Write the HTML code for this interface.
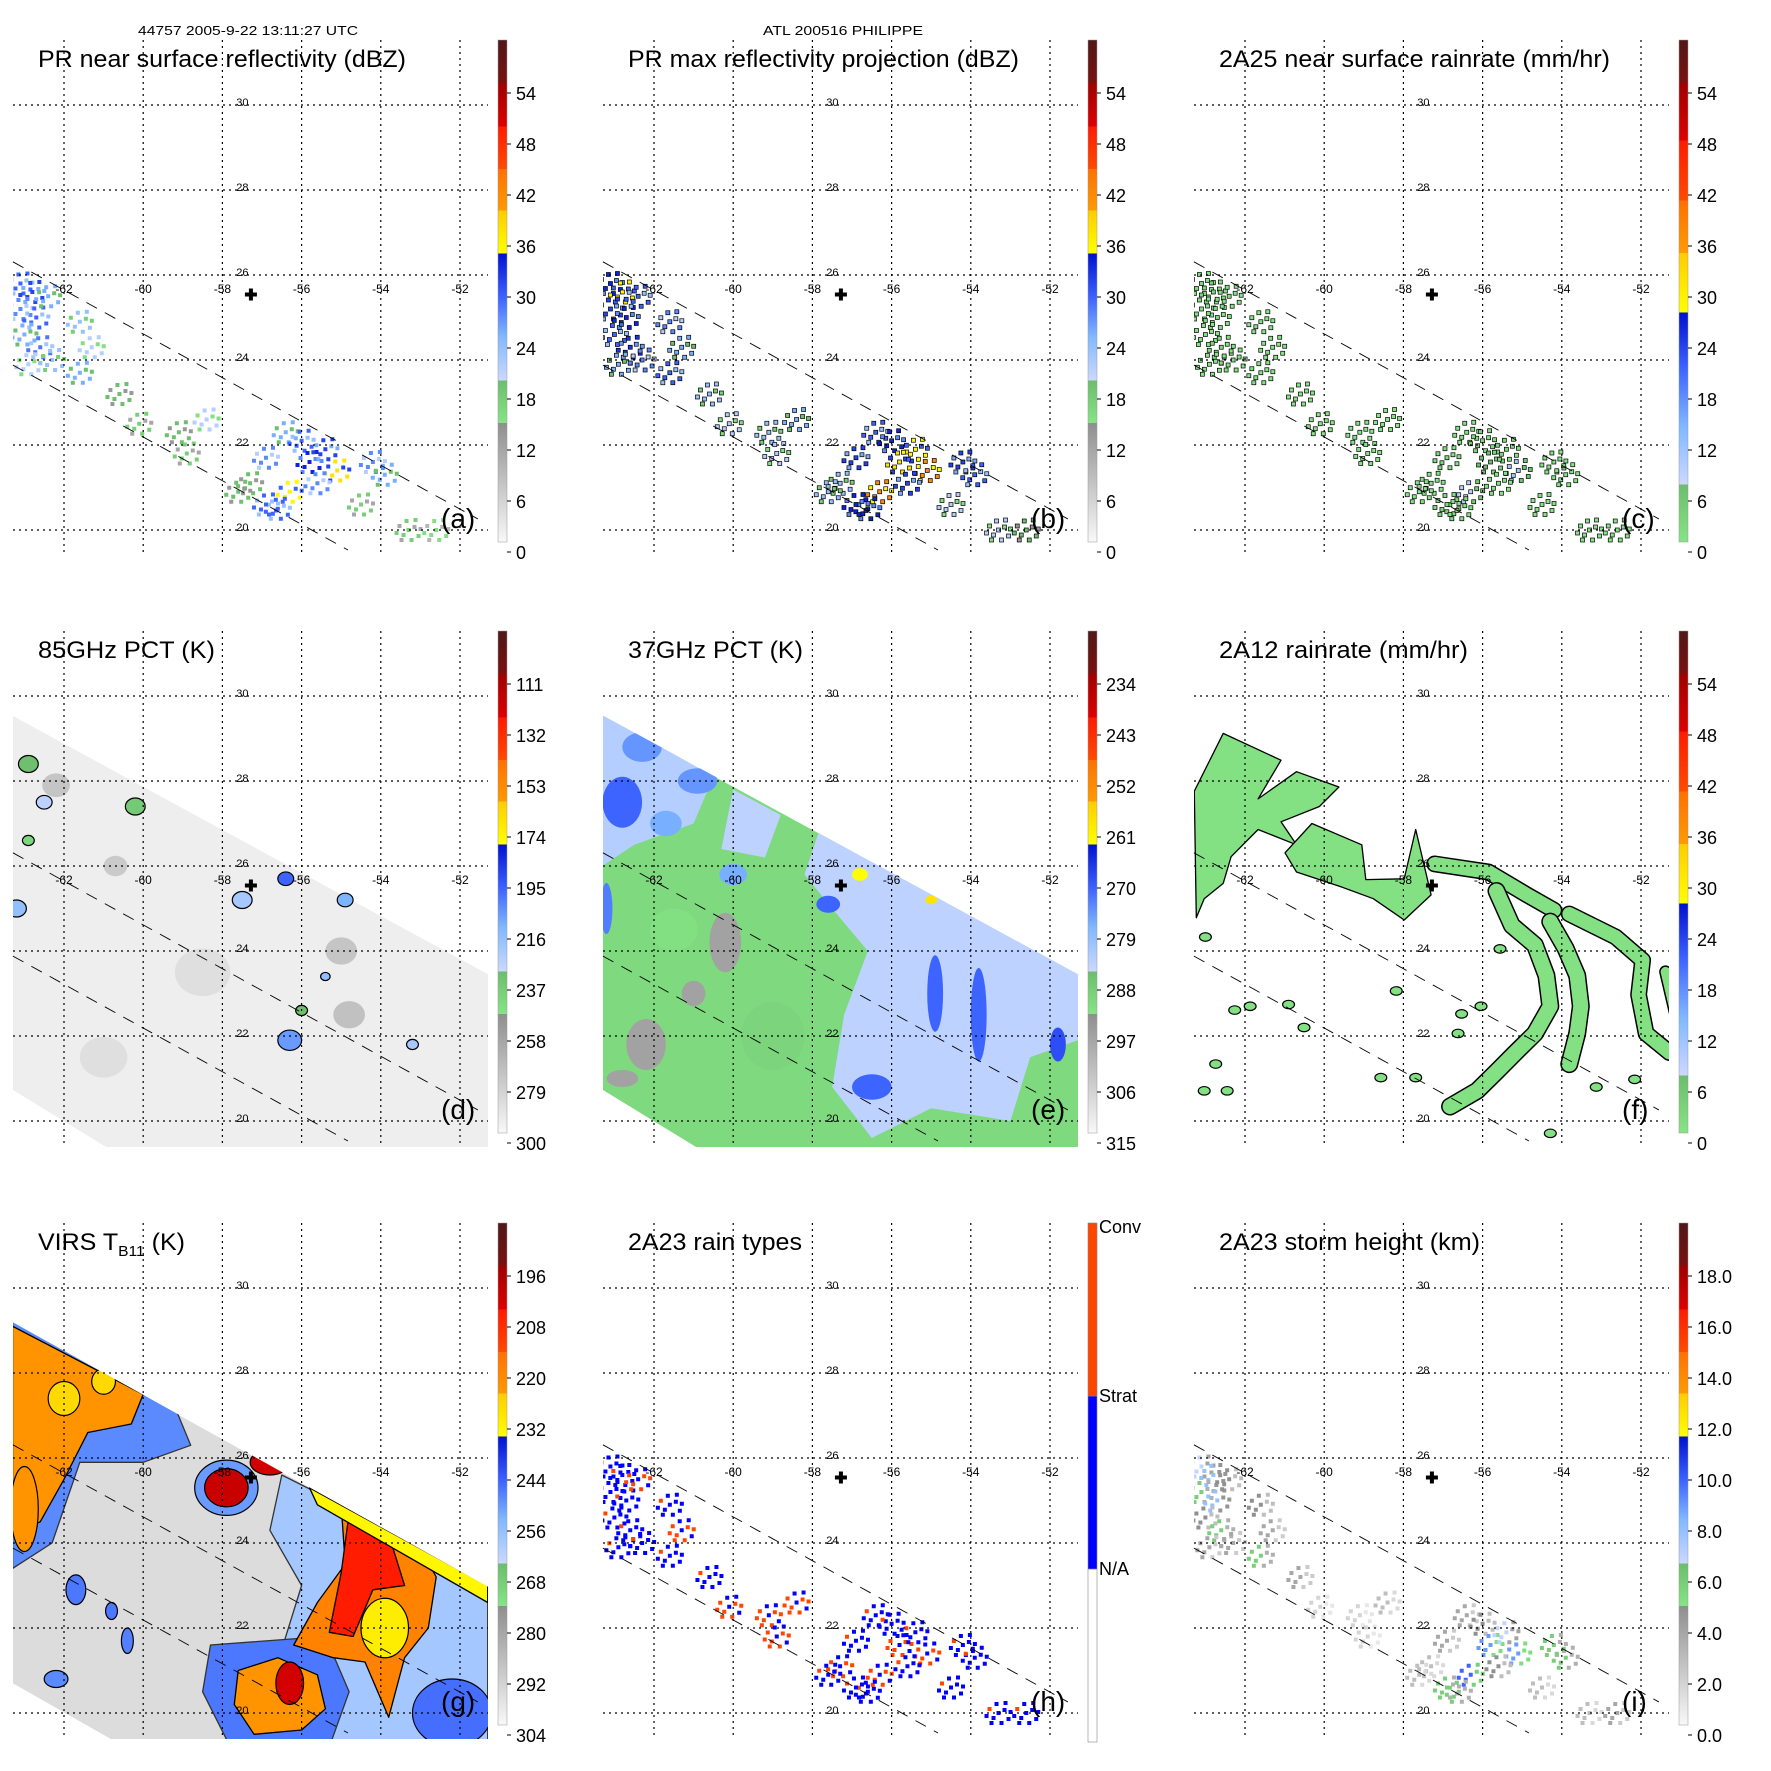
<!DOCTYPE html>
<html><head><meta charset="utf-8"><title>TRMM PHILIPPE 2005-9-22</title>
<style>html,body{margin:0;padding:0;background:#fff}svg{display:block;font-family:"Liberation Sans",Arial,sans-serif}</style>
</head><body>
<svg id="fig" width="1771" height="1771" viewBox="0 0 1771 1771" xmlns="http://www.w3.org/2000/svg">
<defs id="defs"></defs>
<rect width="1771" height="1771" fill="#fff"/>
<text x="138" y="35" font-size="13" textLength="220" lengthAdjust="spacingAndGlyphs">44757 2005-9-22 13:11:27 UTC</text>
<text x="763" y="35" font-size="13" textLength="160" lengthAdjust="spacingAndGlyphs">ATL 200516 PHILIPPE</text>
</svg>
<script>
// ---------- shared geography ----------
const gridLons = [-62, -60, -58, -56, -54, -52];
const gridLats = [30, 28, 26, 24, 22, 20];
const centerLon = [-57.28];
const centerLat = [25.54];
const prUpperLon = [-63.29, -51.55];
const prUpperLat = [26.31, 20.26];
const prLowerLon = [-63.29, -54.83];
const prLowerLat = [23.88, 19.53];
const tmiSwathLon = [-63.29, -51.27, -51.27, -60.78, -63.29];
const tmiSwathLat = [29.53, 23.44, 19.3, 19.3, 20.73];
const virsSwathLon = [-63.29, -51.27, -51.27, -60.46, -63.29];
const virsSwathLat = [29.18, 22.96, 19.2, 19.2, 20.7];

// ---------- PR rain points (panels a,b,c,h,i) ----------
const prLon = [-63.1,-62.8,-63.1,-62.7,-63.0,-62.6,-62.9,-62.4,-62.3,-61.6,-61.3,-61.6,-60.6,-60.1,-59.1,-58.4,-58.9,-57.3,-56.9,-56.4,-56.0,-55.8,-56.3,-56.6,-55.4,-55.1,-55.6,-56.9,-57.6,-54.2,-53.9,-54.5,-53.3,-52.6];
const prLat = [25.8,25.6,25.2,25.0,24.6,24.3,23.9,25.5,24.0,24.9,24.3,23.7,23.2,22.5,22.3,22.6,21.8,21.1,21.7,22.3,22.1,21.6,20.9,20.5,21.9,21.4,21.1,20.6,20.9,21.6,21.3,20.6,20.0,20.0];
const prRefl = [30,32,28,30,26,29,22,26,24,24,22,26,20,18,20,22,18,20,28,26,30,34,36,30,32,38,28,30,20,28,26,18,18,16];
const prMaxRefl = [34,36,32,34,30,33,26,30,28,28,26,30,24,22,24,26,22,24,32,30,34,38,42,34,36,42,32,34,24,32,30,22,22,20];
const prRain = [3,4,2,3,2,3,1,2,1.5,1.5,1,2,1,1,1,1,1,1,3,2,4,8,10,3,4,12,2,3,1,2,2,1,1,1];
const prType = [1,1,1,1,1,1,1,2,1,1,2,1,1,2,2,2,2,2,1,1,1,2,2,1,1,2,1,1,1,1,1,1,1,1];
const prHeight = [7,8,6,8,5,6,4,5,4,5,4,6,4,2,2,3,2,3,4,4,5,9,10,6,7,9,5,6,3,6,6,3,3,4];

// ---------- 85 GHz (d) ----------
const d85Lon = [-62.2,-60.7,-55.0,-54.8,-61.0,-58.5,-62.9,-62.5,-60.2,-62.9,-63.2,-57.5,-56.4,-54.9,-56.3,-56.0,-55.4,-53.2];
const d85Lat = [27.9,26.0,24.0,22.5,21.5,23.5,28.4,27.5,27.4,26.6,25.0,25.2,25.7,25.2,21.9,22.6,23.4,21.8];
const d85Rad = [0.35,0.3,0.4,0.4,0.6,0.7,0.25,0.2,0.25,0.15,0.25,0.25,0.2,0.2,0.3,0.15,0.12,0.15];
const d85Val = [272,274,272,270,284,284,230,225,235,240,215,220,195,210,205,230,215,220];
const d85Base = [291];

// ---------- 37 GHz (e) ----------
const e37Base = [290];
const e37PolyLon = [[-57.8,-51.0,-51.0,-52.5,-53.0,-55.0,-56.5,-57.5,-57.2,-56.6,-57.5,-58.2],[-63.3,-60.5,-61.0,-62.5,-63.3],[-60.0,-58.8,-59.2,-60.3]];
const e37PolyLat = [[26.9,23.4,22.0,21.5,20.0,20.3,19.6,20.8,22.5,24.0,25.0,25.8],[29.6,28.1,27.0,26.5,26.0],[27.8,27.2,26.2,26.4]];
const e37PolyVal = [283,282,283];
const e37Lon = [-62.3,-62.8,-60.9,-61.7,-60.0,-63.2,-54.9,-53.8,-51.8,-56.5,-57.6,-56.8,-55.0,-60.2,-62.2,-62.8,-61.0,-59.0,-61.5];
const e37Lat = [28.8,27.5,28.0,27.0,25.8,25.0,23.0,22.5,21.8,20.8,25.1,25.8,25.2,24.2,21.8,21.0,23.0,22.0,24.5];
const e37Rx = [0.5,0.5,0.5,0.4,0.35,0.15,0.2,0.2,0.2,0.5,0.3,0.2,0.15,0.4,0.5,0.4,0.3,0.8,0.6];
const e37Ry = [0.35,0.6,0.3,0.3,0.25,0.6,0.9,1.1,0.4,0.3,0.2,0.15,0.1,0.7,0.6,0.2,0.3,0.8,0.5];
const e37Val = [274,270,274,276,276,272,270,270,268,270,270,262,258,296,296,296,296,289,291];

// ---------- 2A12 (f) ----------
const fPolyLon = [[-63.28,-62.55,-61.09,-61.67,-60.70,-59.63,-60.12,-61.09,-60.70,-61.67,-62.35,-62.55,-63.03,-63.23],[-60.99,-60.31,-59.05,-58.95,-57.98,-57.69,-57.30,-57.98,-58.76,-59.54,-60.70]];
const fPolyLat = [[27.76,29.12,28.49,27.58,28.22,27.86,27.40,27.04,26.50,26.86,26.22,25.59,25.23,24.78],[26.31,27.0,26.5,25.68,25.7,26.86,25.32,24.73,25.23,25.5,25.86]];
const fBandLon = [[-57.21,-55.85,-54.88,-54.20],[-55.65,-55.26,-54.68,-54.39,-54.29,-54.68,-55.17,-55.65,-56.14,-56.82],[-54.29,-53.90,-53.61,-53.52,-53.61,-53.81],[-53.81,-52.64,-51.96,-52.06,-51.87,-51.28],[-51.38,-51.13]];
const fBandLat = [[26.05,25.86,25.32,24.96],[25.41,24.60,24.14,23.42,22.70,22.06,21.61,21.16,20.71,20.34],[24.69,24.05,23.42,22.70,22.06,21.34],[24.87,24.33,23.78,22.97,22.06,21.61],[23.51,22.52]];
const fBandWidth = [0.35,0.38,0.38,0.35,0.25];
const fBlobLon = [-62.74,-62.45,-63.03,-61.87,-60.90,-60.51,-62.26,-58.18,-57.69,-58.57,-56.53,-56.04,-56.62,-54.29,-53.13,-52.16,-63.0,-55.56];
const fBlobLat = [21.34,20.71,20.71,22.70,22.74,22.20,22.61,23.06,21.02,21.02,22.52,22.70,22.06,19.71,20.80,20.98,24.33,24.05];
const fRainVal = [2];

// ---------- VIRS (g) ----------
const gBase = [294];
const gPolyLon = [[-63.3,-59.2,-58.8,-60.0,-61.6,-62.3,-63.3],[-63.3,-60.0,-60.3,-61.4,-62.0,-62.6,-63.3],[-56.5,-55.0,-51.3,-51.3,-57.5,-58.0,-56.5,-56.0,-56.8],[-58.3,-55.4,-54.8,-55.3,-57.8,-58.5],[-55.0,-53.0,-52.6,-52.8,-53.4,-53.8,-54.4,-55.2,-56.2,-55.6,-54.9],[-54.8,-53.8,-53.4,-54.2,-54.7,-55.3,-55.0],[-55.8,-51.3,-51.3,-55.6],[-57.6,-56.6,-55.6,-55.4,-56.0,-57.2,-57.7]];
const gPolyLat = [[29.3,27.2,26.3,25.9,25.9,24.0,23.4],[29.1,27.5,26.8,26.6,25.5,24.5,24.2],[25.6,24.9,23.0,19.2,19.2,20.3,21.5,23.0,24.3],[21.6,21.8,20.5,19.2,19.2,20.5],[24.9,23.9,23.2,22.0,21.3,19.9,21.2,21.3,21.6,22.6,23.5],[24.7,24.2,23.0,22.9,21.8,21.9,23.3],[25.3,23.0,22.6,24.9],[21.0,21.3,20.9,20.1,19.6,19.5,20.2]];
const gPolyVal = [248,222,258,246,218,204,232,222];
const gEllLon = [-57.9,-57.9,-56.8,-53.9,-56.3,-52.2,-61.7,-60.4,-62.2,-60.8,-63.0,-62.0,-61.0];
const gEllLat = [25.3,25.3,25.9,22.0,20.7,20.0,22.9,21.7,20.8,22.4,24.8,27.4,27.8];
const gEllRx = [0.8,0.55,0.5,0.6,0.35,1.0,0.25,0.15,0.3,0.15,0.35,0.4,0.3];
const gEllRy = [0.65,0.45,0.3,0.7,0.5,0.8,0.35,0.3,0.2,0.2,1.0,0.4,0.3];
const gEllVal = [250,200,202,230,202,245,246,247,248,246,222,226,226];

// ---------- colorbar tick labels ----------
const ticksDbz = ['0','6','12','18','24','30','36','42','48','54'];
const ticksRain = ['0','6','12','18','24','30','36','42','48','54'];
const ticks85 = ['300','279','258','237','216','195','174','153','132','111'];
const ticks37 = ['315','306','297','288','279','270','261','252','243','234'];
const ticksVirs = ['304','292','280','268','256','244','232','220','208','196'];
const ticksHt = ['0.0','2.0','4.0','6.0','8.0','10.0','12.0','14.0','16.0','18.0'];
const typeLabels = ['N/A','Strat','Conv'];

// ---------- styling constants ----------
const SCHEME_A = [[0,'#f8f8f8'],[0.2375,'#8e8e8e'],[0.2375,'#86e486'],[0.322,'#6cbd6c'],[0.322,'#ccd8ff'],[0.41,'#80b8ff'],[0.49,'#3a60ff'],[0.575,'#0010d0'],[0.575,'#ffff00'],[0.66,'#ffcc00'],[0.66,'#ff9a00'],[0.743,'#ff7000'],[0.743,'#ff4a00'],[0.828,'#ff1a00'],[0.828,'#dd0000'],[0.915,'#a00000'],[0.915,'#7a1010'],[1,'#501818']];
const SCHEME_C = [[0,'#86e486'],[0.115,'#6cbd6c'],[0.115,'#ccd8ff'],[0.23,'#80b8ff'],[0.35,'#3a60ff'],[0.457,'#0010d0'],[0.457,'#ffff00'],[0.576,'#ffcc00'],[0.576,'#ff9a00'],[0.68,'#ff7000'],[0.68,'#ff4a00'],[0.80,'#ff1a00'],[0.80,'#dd0000'],[0.915,'#a00000'],[0.915,'#7a1010'],[1,'#501818']];
const STENCIL = [[0,0],[6,-3],[-5,5],[10,6],[-9,-4],[3,10],[-2,-9],[12,-1],[-12,3],[7,-10],[-7,10]];
const COLS = [0,590,1181], ROWS = [0,591,1183];
const NS = 'http://www.w3.org/2000/svg';
const svg = document.getElementById('fig');
const defs = document.getElementById('defs');

function X(lon){ return 64 + (lon + 62) * 39.6; }
function Y(lat){ return 105 + (30 - lat) * 42.5; }
function PXLON(d){ return d * 39.6; }
function PXLAT(d){ return d * 42.5; }
function hex2rgb(h){ return [parseInt(h.substr(1,2),16),parseInt(h.substr(3,2),16),parseInt(h.substr(5,2),16)]; }
function schemeColor(s, f){
  f = Math.max(0, Math.min(0.9999, f));
  for (let i = 0; i < s.length - 1; i++) {
    const a = s[i], b = s[i+1];
    if (f >= a[0] && f < b[0]) {
      const t = (f - a[0]) / (b[0] - a[0]);
      const ca = hex2rgb(a[1]), cb = hex2rgb(b[1]);
      return 'rgb(' + ca.map((c,k)=>Math.round(c + (cb[k]-c)*t)).join(',') + ')';
    }
  }
  return s[s.length-1][1];
}
function valFrac(v, v0, dv){ return (((v - v0) / dv) * 51 - 11) / 502; }
function mk(tag, attrs, parent){
  const el = document.createElementNS(NS, tag);
  for (const k in attrs) el.setAttribute(k, attrs[k]);
  parent.appendChild(el);
  return el;
}
function polyPts(lons, lats){ return lons.map((l,i)=>X(l).toFixed(1)+','+Y(lats[i]).toFixed(1)).join(' '); }

function makePanel(idx, name, title, titleW, letter, scheme, ticks, tickName){
  const col = idx % 3, row = Math.floor(idx / 3);
  const g = mk('g', {transform:'translate('+COLS[col]+','+ROWS[row]+')'}, svg);
  
  
  const cp = mk('clipPath', {id:'clip'+idx}, defs);
  mk('rect', {x:13, y:40, width:475, height:516}, cp);
  const data = mk('g', {'clip-path':'url(#clip'+idx+')'}, g);
  
  
  const over = mk('g', {}, g);
  
  
  const t = mk('text', {x:38, y:67, 'font-size':24, textLength:titleW, lengthAdjust:'spacingAndGlyphs'}, g);
  
  
  if (Array.isArray(title)) {
    t.appendChild(document.createTextNode(title[0]));
    const sub = mk('tspan', {'font-size':15, dy:6}, t);
    sub.textContent = title[1];
    const rest = mk('tspan', {dy:-6}, t);
    rest.textContent = title[2];
  } else t.textContent = title;
  const lt = mk('text', {x:441, y:528, 'font-size':28}, g);
  
  
  lt.textContent = letter;
  const gid = 'grad'+idx;
  if (scheme) {
    const lg = mk('linearGradient', {id:gid, x1:0, y1:1, x2:0, y2:0}, defs);
    scheme.forEach(s => mk('stop', {offset:s[0], 'stop-color':s[1]}, lg));
    const cb = mk('rect', {x:498, y:40, width:9, height:502, fill:'url(#'+gid+')', stroke:'#999', 'stroke-width':0.5}, g);
    
    
    ticks.forEach((lab, k) => {
      const yy = 553 - 51*k;
      const tk = mk('line', {x1:507, x2:511, y1:yy-1, y2:yy-1, stroke:'#000', 'stroke-width':1}, g);
      
      
      const tx = mk('text', {x:516, y:yy+6, 'font-size':18}, g);
      
      
      tx.textContent = lab;
    });
  }
  return {g, data, over};
}

function drawGrid(p, lines){
  const o = p.over;
  if (lines) {
    [[prUpperLon,prUpperLat],[prLowerLon,prLowerLat]].forEach((ln, i) => {
      const l = mk('line', {x1:X(ln[0][0]), y1:Y(ln[1][0]), x2:X(ln[0][1]), y2:Y(ln[1][1]), stroke:'#000', 'stroke-width':0.9, 'stroke-dasharray':'12,9'}, o);
      
      
    });
  }
  gridLons.forEach(lon => {
    const l = mk('line', {x1:X(lon), x2:X(lon), y1:40, y2:554, stroke:'#000', 'stroke-width':1.2, 'stroke-dasharray':'2,4'}, o);
    
    
    const tx = mk('text', {x:X(lon), y:Y(25.6)+1, 'font-size':12, 'text-anchor':'middle'}, o);
    
    
    tx.textContent = String(lon);
  });
  gridLats.forEach(lat => {
    const l = mk('line', {x1:13, x2:488, y1:Y(lat), y2:Y(lat), stroke:'#000', 'stroke-width':1.2, 'stroke-dasharray':'2,4'}, o);
    
    
    const tx = mk('text', {x:X(-57.65), y:Y(lat)+1, 'font-size':11}, o);
    
    
    tx.textContent = String(lat);
  });
  const cx = X(centerLon[0]), cy = Y(centerLat[0]);
  const c = mk('path', {d:'M'+(cx-6)+','+cy+'H'+(cx+6)+'M'+cx+','+(cy-6)+'V'+(cy+6), stroke:'#000', 'stroke-width':4}, o);
  
  
}

function drawSpeckles(p, vals, colorOf, outline){
  prLon.forEach((lon, i) => {
    const cx = X(lon), cy = Y(prLat[i]);
    STENCIL.forEach((s, k) => {
      const v = vals[i];
      const r = mk('rect', {x:cx+s[0]-2, y:cy+s[1]-2, width:4, height:4, fill:colorOf(v, k)}, p.data);
      if (outline) { r.setAttribute('stroke', '#000'); r.setAttribute('stroke-width', 0.7); }
      
      
    });
  });
}
function fillPoly(parent, lons, lats, fill, stroke, name){
  const pg = mk('polygon', {points:polyPts(lons, lats), fill:fill}, parent);
  if (stroke) { pg.setAttribute('stroke', stroke); pg.setAttribute('stroke-width', 1.3); pg.setAttribute('stroke-linejoin','round'); }
  
  
  return pg;
}
function ell(parent, lon, lat, rx, ry, fill, stroke, name){
  const e = mk('ellipse', {cx:X(lon), cy:Y(lat), rx:PXLON(rx), ry:PXLAT(ry), fill:fill}, parent);
  if (stroke) { e.setAttribute('stroke', stroke); e.setAttribute('stroke-width', 1.2); }
  
  
}

// (a)
let P = makePanel(0, 'panel-a-pr-reflectivity', 'PR near surface reflectivity (dBZ)', 368, '(a)', SCHEME_A, ticksDbz, 'colorbar-label');
drawSpeckles(P, prRefl, (v,k)=>schemeColor(SCHEME_A, valFrac(k%3===1 ? v-6 : v, 0, 6)), false);
drawGrid(P, true);

// (b)
P = makePanel(1, 'panel-b-pr-max-reflectivity', 'PR max reflectivity projection (dBZ)', 391, '(b)', SCHEME_A, ticksDbz, 'colorbar-label');
drawSpeckles(P, prMaxRefl, (v,k)=>schemeColor(SCHEME_A, valFrac(k%3===1 ? v-6 : v, 0, 6)), true);
drawGrid(P, true);

// (c)
P = makePanel(2, 'panel-c-2a25-rainrate', '2A25 near surface rainrate (mm/hr)', 391, '(c)', SCHEME_C, ticksRain, 'colorbar-label');
drawSpeckles(P, prRain, (v,k)=>schemeColor(SCHEME_C, valFrac(k%2 ? v*0.6 : v, 0, 6)), true);
drawGrid(P, true);

// (d)
P = makePanel(3, 'panel-d-85ghz-pct', '85GHz PCT (K)', 177, '(d)', SCHEME_A, ticks85, 'colorbar-label');
fillPoly(P.data, tmiSwathLon, tmiSwathLat, schemeColor(SCHEME_A, valFrac(d85Base[0], 300, -21)), null, 'tmi-swath');
d85Lon.forEach((lon, i) => {
  const v = d85Val[i];
  ell(P.data, lon, d85Lat[i], d85Rad[i], d85Rad[i]*0.8, schemeColor(SCHEME_A, valFrac(v, 300, -21)), v < 250 ? '#000' : null, 'tb-cell');
});
drawGrid(P, true);

// (e)
P = makePanel(4, 'panel-e-37ghz-pct', '37GHz PCT (K)', 175, '(e)', SCHEME_A, ticks37, 'colorbar-label');
fillPoly(P.data, tmiSwathLon, tmiSwathLat, schemeColor(SCHEME_A, valFrac(e37Base[0], 315, -9)), null, 'tmi-swath');
e37PolyLon.forEach((lons, i) => fillPoly(P.data, lons, e37PolyLat[i], schemeColor(SCHEME_A, valFrac(e37PolyVal[i], 315, -9)), null, 'tb-region'));
e37Lon.forEach((lon, i) => ell(P.data, lon, e37Lat[i], e37Rx[i], e37Ry[i], schemeColor(SCHEME_A, valFrac(e37Val[i], 315, -9)), null, 'tb-cell'));
fillPoly(P.data, [-63.5,-51.27,-51.27,-63.5], [29.65,23.44,30.5,30.5], '#fff', null, 'swath-mask');
drawGrid(P, true);

// (f)
P = makePanel(5, 'panel-f-2a12-rainrate', '2A12 rainrate (mm/hr)', 249, '(f)', SCHEME_C, ticksRain, 'colorbar-label');
const fGreen = schemeColor(SCHEME_C, valFrac(fRainVal[0], 0, 6));
fPolyLon.forEach((lons, i) => fillPoly(P.data, lons, fPolyLat[i], fGreen, '#000', 'rain-area'));
fBandLon.forEach((lons, i) => {
  const pts = polyPts(lons, fBandLat[i]);
  const w = PXLON(fBandWidth[i]);
  const o = mk('polyline', {points:pts, fill:'none', stroke:'#000', 'stroke-width':w+3, 'stroke-linejoin':'round', 'stroke-linecap':'round'}, P.data);
  
  
  const b = mk('polyline', {points:pts, fill:'none', stroke:fGreen, 'stroke-width':w, 'stroke-linejoin':'round', 'stroke-linecap':'round'}, P.data);
  
  
});
fBlobLon.forEach((lon, i) => ell(P.data, lon, fBlobLat[i], 0.15, 0.1, fGreen, '#000', 'rain-cell'));
drawGrid(P, true);

// (g)
P = makePanel(6, 'panel-g-virs-tb11', ['VIRS T','B11',' (K)'], 147, '(g)', SCHEME_A, ticksVirs, 'colorbar-label');
fillPoly(P.data, virsSwathLon, virsSwathLat, schemeColor(SCHEME_A, valFrac(gBase[0], 304, -12)), null, 'virs-swath');
gPolyLon.forEach((lons, i) => fillPoly(P.data, lons, gPolyLat[i], schemeColor(SCHEME_A, valFrac(gPolyVal[i], 304, -12)), gPolyVal[i] < 240 ? '#000' : '#333', 'cloud-region'));
gEllLon.forEach((lon, i) => ell(P.data, lon, gEllLat[i], gEllRx[i], gEllRy[i], schemeColor(SCHEME_A, valFrac(gEllVal[i], 304, -12)), '#000', 'cloud-cell'));
fillPoly(P.data, [-63.5,-51.27,-51.27,-63.5], [29.3,22.96,30.5,30.5], '#fff', null, 'swath-mask');
drawGrid(P, true);

// (h)
P = makePanel(7, 'panel-h-2a23-rain-types', '2A23 rain types', 174, '(h)', null, null, null);
const typeColors = ['#ffffff','#0000ff','#ff4500'];
drawSpeckles(P, prType, (v,k)=> (v===2 && k%3===0) || (v===1 && k===4) ? typeColors[3-v] : typeColors[v], false);
typeColors.forEach((c, i) => {
  const r = mk('rect', {x:498, y:40 + (2-i)*173, width:9, height:173, fill:c, stroke:'#888', 'stroke-width':0.6}, P.g);
  
  
  const tx = mk('text', {x:509, y:40 + (2-i)*173 + 6 + (i===2 ? 4 : 0), 'font-size':18}, P.g);
  
  
  tx.textContent = typeLabels[i];
});
drawGrid(P, true);

// (i)
P = makePanel(8, 'panel-i-2a23-storm-height', '2A23 storm height (km)', 261, '(i)', SCHEME_A, ticksHt, 'colorbar-label');
drawSpeckles(P, prHeight, (v,k)=>schemeColor(SCHEME_A, valFrac(k%2 ? v*0.6 : v, 0, 2)), false);
drawGrid(P, true);
</script>
</body></html>
